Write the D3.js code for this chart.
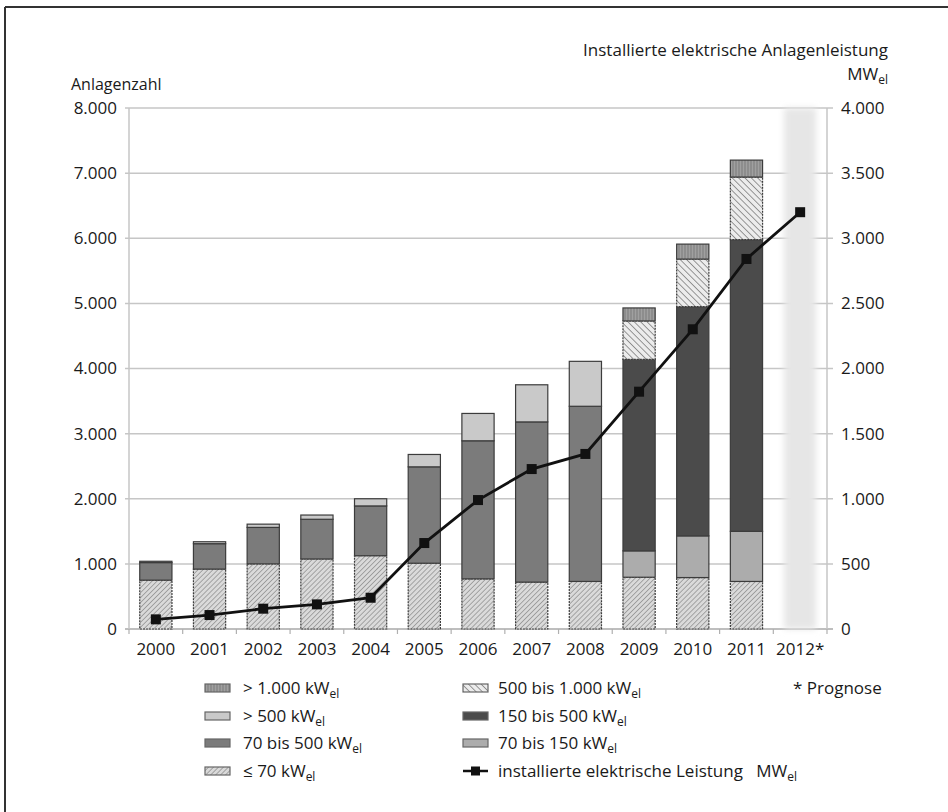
<!DOCTYPE html>
<html><head><meta charset="utf-8">
<script src="https://cdn.jsdelivr.net/npm/d3@7"></script>
<style>body{margin:0;background:#fff} text{font-family:"Open Sans",sans-serif;fill:#1a1a1a}</style>
</head><body><svg id="c" width="948" height="812"></svg>
<script>
const years = ["2000","2001","2002","2003","2004","2005","2006","2007","2008","2009","2010","2011","2012*"];
// Anlagenzahl by size class (left axis)
const le70      = [750, 920, 1000, 1075, 1125, 1010, 770, 720, 730, 795, 790, 730, 0];
const b70_500   = [270, 390, 560, 610, 765, 1480, 2120, 2460, 2690, 0, 0, 0, 0];
const gt500     = [20, 30, 50, 65, 110, 190, 420, 570, 690, 0, 0, 0, 0];
const b70_150   = [0, 0, 0, 0, 0, 0, 0, 0, 0, 405, 640, 770, 0];
const b150_500  = [0, 0, 0, 0, 0, 0, 0, 0, 0, 2940, 3520, 4480, 0];
const b500_1000 = [0, 0, 0, 0, 0, 0, 0, 0, 0, 590, 730, 960, 0];
const gt1000    = [0, 0, 0, 0, 0, 0, 0, 0, 0, 200, 230, 260, 0];
// installed electrical capacity MW_el (right axis)
const leistung  = [74, 107, 156, 189, 240, 660, 990, 1228, 1344, 1822, 2301, 2841, 3200];
const leftTicks  = [0,1000,2000,3000,4000,5000,6000,7000,8000];
const rightTicks = [0,500,1000,1500,2000,2500,3000,3500,4000];

const seriesKeys = ["le70","b70_500","gt500","b70_150","b150_500","b500_1000","gt1000"];
const seriesData = {le70,b70_500,gt500,b70_150,b150_500,b500_1000,gt1000};
const fills = {le70:"url(#hFine)", b70_500:"#7b7b7b", gt500:"#c9c9c9", b70_150:"#acacac",
  b150_500:"#4b4b4b", b500_1000:"url(#hCoarse)", gt1000:"url(#vStripe)"};
const strokeDash = {le70:"2,1", b500_1000:"2,1"};

const de = d3.formatLocale({decimal:",", thousands:".", grouping:[3], currency:["","€"]});
const fmt = de.format(",d");
const FS = 17;

const svg = d3.select("#c");
svg.append("rect").attr("width",948).attr("height",812).attr("fill","#fff");
const defs = svg.append("defs");
let p = defs.append("pattern").attr("id","hFine").attr("patternUnits","userSpaceOnUse")
  .attr("width",3.5).attr("height",3.5).attr("patternTransform","rotate(45)");
p.append("rect").attr("width",3.5).attr("height",3.5).attr("fill","#dadada");
p.append("line").attr("x1",0).attr("y1",0).attr("x2",0).attr("y2",3.5).attr("stroke","#858585").attr("stroke-width",1.3);
p = defs.append("pattern").attr("id","hCoarse").attr("patternUnits","userSpaceOnUse")
  .attr("width",4.5).attr("height",4.5).attr("patternTransform","rotate(-45)");
p.append("rect").attr("width",4.5).attr("height",4.5).attr("fill","#ececec");
p.append("line").attr("x1",0).attr("y1",0).attr("x2",0).attr("y2",4.5).attr("stroke","#707070").attr("stroke-width",1.4);
p = defs.append("pattern").attr("id","vStripe").attr("patternUnits","userSpaceOnUse")
  .attr("width",3).attr("height",3);
p.append("rect").attr("width",3).attr("height",3).attr("fill","#a0a0a0");
p.append("line").attr("x1",1).attr("y1",0).attr("x2",1).attr("y2",3).attr("stroke","#7a7a7a").attr("stroke-width",1);
defs.append("filter").attr("id","blur").attr("x","-50%").attr("width","200%")
  .append("feGaussianBlur").attr("stdDeviation",3);

// frame
svg.append("line").attr("x1",5).attr("y1",7).attr("x2",948).attr("y2",7).attr("stroke","#333").attr("stroke-width",2);
svg.append("line").attr("x1",5).attr("y1",7).attr("x2",5).attr("y2",812).attr("stroke","#333").attr("stroke-width",2);

const L = 129, R = 827, T = 108, B = 629;
const x = d3.scaleBand().domain(years).range([L,R]).paddingInner(0.4).paddingOuter(0.2);
const xc = d => x(d) + x.bandwidth()/2;
const yL = d3.scaleLinear().domain([0,8000]).range([B,T]);
const yR = d3.scaleLinear().domain([0,4000]).range([B,T]);
const step = (R-L)/years.length;

svg.append("g").selectAll("line").data(leftTicks).join("line")
  .attr("x1",L-4).attr("x2",R+6).attr("y1",d=>yL(d)).attr("y2",d=>yL(d))
  .attr("stroke",d=>d===0?"#a8a8a8":"#c6c6c6").attr("stroke-width",1.5);
svg.append("line").attr("x1",L).attr("x2",L).attr("y1",T).attr("y2",B).attr("stroke","#c6c6c6").attr("stroke-width",1.5);
svg.append("line").attr("x1",R).attr("x2",R).attr("y1",T).attr("y2",B).attr("stroke","#c6c6c6").attr("stroke-width",1.5);
svg.append("g").selectAll("line").data(d3.range(years.length+1)).join("line")
  .attr("x1",i=>L+i*step).attr("x2",i=>L+i*step).attr("y1",B).attr("y2",B+5)
  .attr("stroke","#b0b0b0").attr("stroke-width",1.2);

// 2012 prognosis shaded band
const last = years[years.length-1];
svg.append("rect").attr("x",xc(last)-16).attr("width",32).attr("y",T).attr("height",B-T)
  .attr("fill","#e6e6e6").attr("filter","url(#blur)");

// stacked bars
const rows = years.map((yr,i)=>{const o={year:yr}; seriesKeys.forEach(k=>o[k]=seriesData[k][i]); return o;});
const stack = d3.stack().keys(seriesKeys)(rows);
const gBars = svg.append("g");
stack.forEach(s=>{
  gBars.append("g").selectAll("rect").data(s.filter(d=>d[1]-d[0]>0)).join("rect")
    .attr("x",d=>x(d.data.year)).attr("width",x.bandwidth())
    .attr("y",d=>yL(d[1])).attr("height",d=>yL(d[0])-yL(d[1]))
    .attr("fill",fills[s.key]).attr("stroke","#3c3c3c").attr("stroke-width",1.2)
    .attr("stroke-dasharray",strokeDash[s.key]||null);
});

// line
const line = d3.line().x((d,i)=>xc(years[i])).y(d=>yR(d));
svg.append("path").datum(leistung).attr("d",line).attr("fill","none").attr("stroke","#111").attr("stroke-width",2.8);
svg.append("g").selectAll("rect").data(leistung).join("rect")
  .attr("x",(d,i)=>xc(years[i])-5).attr("y",d=>yR(d)-5).attr("width",10).attr("height",10).attr("fill","#111");

// axis labels
svg.append("g").selectAll("text").data(leftTicks).join("text")
  .attr("x",117).attr("y",d=>yL(d)).attr("dy","0.35em").attr("text-anchor","end")
  .attr("font-size",FS).text(d=>fmt(d));
svg.append("g").selectAll("text").data(rightTicks).join("text")
  .attr("x",841).attr("y",d=>yR(d)).attr("dy","0.35em").attr("text-anchor","start")
  .attr("font-size",FS).text(d=>fmt(d));
svg.append("g").selectAll("text").data(years).join("text")
  .attr("x",d=>xc(d)).attr("y",655).attr("text-anchor","middle").attr("font-size",FS)
  .text(d=>d);

svg.append("text").attr("x",71).attr("y",90).attr("font-size",16).text("Anlagenzahl");
svg.append("text").attr("x",888).attr("y",56).attr("text-anchor","end").attr("font-size",FS)
  .text("Installierte elektrische Anlagenleistung");
function sub(sel, main, s){ sel.append("tspan").text(main); sel.append("tspan").attr("dy",4).attr("font-size",12).text(s); }
sub(svg.append("text").attr("x",888).attr("y",80).attr("text-anchor","end").attr("font-size",FS),"MW","el");

// legend
const legLeft = [
  {label:"> 1.000 kW", fill:fills.gt1000},
  {label:"> 500 kW", fill:fills.gt500},
  {label:"70 bis 500 kW", fill:fills.b70_500},
  {label:"\u2264 70 kW", fill:fills.le70}
];
const legRight = [
  {label:"500 bis 1.000 kW", fill:fills.b500_1000},
  {label:"150 bis 500 kW", fill:fills.b150_500},
  {label:"70 bis 150 kW", fill:fills.b70_150},
  {label:"installierte elektrische Leistung   MW", line:true}
];
const legY = [688,716,743,771];
function legend(items, ix, tx){
  items.forEach((it,i)=>{
    const yy = legY[i];
    if(it.line){
      svg.append("line").attr("x1",ix).attr("x2",ix+25).attr("y1",yy).attr("y2",yy).attr("stroke","#111").attr("stroke-width",2.5);
      svg.append("rect").attr("x",ix+8).attr("y",yy-4.5).attr("width",9).attr("height",9).attr("fill","#111");
    } else {
      svg.append("rect").attr("x",ix).attr("y",yy-4).attr("width",25).attr("height",8)
        .attr("fill",it.fill).attr("stroke","#666").attr("stroke-width",1.2);
    }
    const t = svg.append("text").attr("x",tx).attr("y",yy+6).attr("font-size",FS).attr("xml:space","preserve");
    sub(t, it.label, "el");
  });
}
legend(legLeft, 205, 243);
legend(legRight, 463, 498);
svg.append("text").attr("x",793).attr("y",694).attr("font-size",FS).text("* Prognose");
</script></body></html>
